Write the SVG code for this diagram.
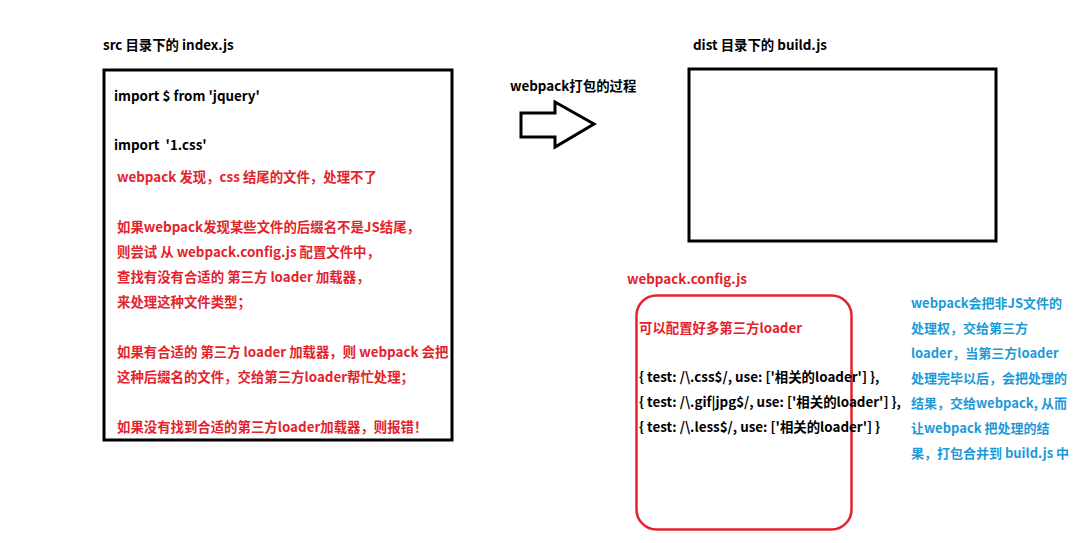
<svg xmlns="http://www.w3.org/2000/svg" width="1080" height="543" viewBox="0 0 1080 543">
<style>
text{font-family:"Noto Sans CJK SC","Microsoft YaHei",sans-serif;font-size:13px;font-weight:bold}
.k{fill:#000;font-size:13.4px}
.r{fill:#e3232c;font-size:13.4px}
.b{fill:#1b9ad8}
.box{fill:#fff;stroke:#000;stroke-width:3}
</style>
<rect width="1080" height="543" fill="#fff"/>
<g id="src">
<text class="k" x="103" y="50">src 目录下的 index.js</text>
<rect class="box" x="104" y="70" width="348" height="370"/>
<text class="k" x="114" y="101">import $ from 'jquery'</text>
<text class="k" x="114" y="150" xml:space="preserve">import  '1.css'</text>
<text class="r" x="117" y="182">webpack 发现，css 结尾的文件，处理不了</text>
<text class="r" x="117" y="232">如果webpack发现某些文件的后缀名不是JS结尾，</text>
<text class="r" x="117" y="257">则尝试 从 webpack.config.js 配置文件中，</text>
<text class="r" x="117" y="282">查找有没有合适的 第三方 loader 加载器，</text>
<text class="r" x="117" y="307">来处理这种文件类型；</text>
<text class="r" x="117" y="357">如果有合适的 第三方 loader 加载器，则 webpack 会把</text>
<text class="r" x="117" y="382">这种后缀名的文件，交给第三方loader帮忙处理；</text>
<text class="r" x="117" y="432">如果没有找到合适的第三方loader加载器，则报错！</text>
</g>
<g id="dist">
<text class="k" x="693" y="50">dist 目录下的 build.js</text>
<rect class="box" x="689" y="69" width="307" height="172"/>
</g>
<g id="process">
<text class="k" x="510" y="91">webpack打包的过程</text>
</g>
<g id="connectors">
<polygon points="521,113 555,113 555,102 594,124 555,147 555,137 521,137" fill="#fff" stroke="#000" stroke-width="3" stroke-linejoin="miter"/>
</g>
<g id="config">
<text class="r" x="627" y="284">webpack.config.js</text>
<rect x="636.5" y="295.5" width="215" height="234" rx="20" ry="20" fill="none" stroke="#e3232c" stroke-width="2.5"/>
<text class="r" x="639" y="333">可以配置好多第三方loader</text>
<text class="k" x="639" y="382">{ test: /\.css$/, use: ['相关的loader'] },</text>
<text class="k" x="639" y="407">{ test: /\.gif|jpg$/, use: ['相关的loader'] },</text>
<text class="k" x="639" y="432">{ test: /\.less$/, use: ['相关的loader'] }</text>
</g>
<g id="note">
<text class="b" x="911" y="308">webpack会把非JS文件的</text>
<text class="b" x="911" y="333">处理权，交给第三方</text>
<text class="b" x="911" y="358">loader，当第三方loader</text>
<text class="b" x="911" y="383">处理完毕以后，会把处理的</text>
<text class="b" x="911" y="408">结果，交给webpack, 从而</text>
<text class="b" x="911" y="433">让webpack 把处理的结</text>
<text class="b" x="911" y="458">果，打包合并到 build.js 中</text>
</g>
</svg>
